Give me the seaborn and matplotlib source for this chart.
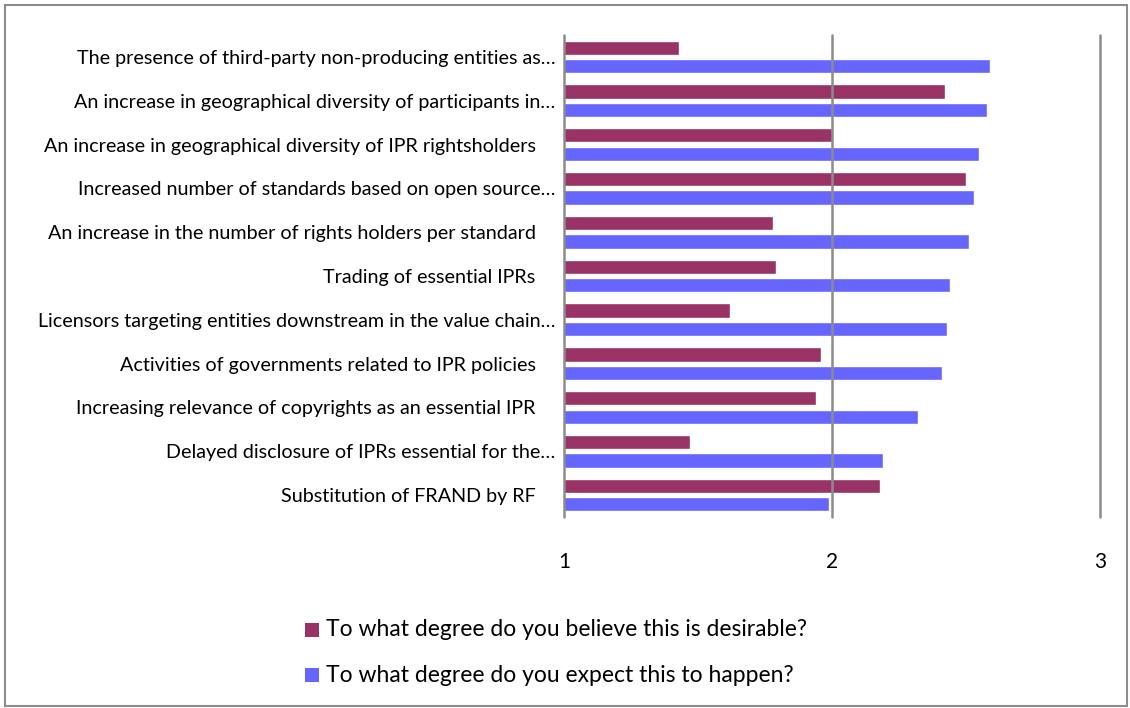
import matplotlib
matplotlib.use("Agg")
import matplotlib.pyplot as plt
import seaborn as sns
import pandas as pd
from matplotlib.patches import Rectangle

categories = [
    "The presence of third-party non-producing entities as\u2026",
    "An increase in geographical diversity of participants in\u2026",
    "An increase in geographical diversity of IPR rightsholders    ",
    "Increased number of standards based on open source\u2026",
    "An increase in the number of rights holders per standard    ",
    "Trading of essential IPRs    ",
    "Licensors targeting entities downstream in the value chain\u2026",
    "Activities of governments related to IPR policies    ",
    "Increasing relevance of copyrights as an essential IPR    ",
    "Delayed disclosure of IPRs essential for the\u2026",
    "Substitution of FRAND by RF    ",
]
desirable = [1.43, 2.42, 2.00, 2.50, 1.78, 1.79, 1.62, 1.96, 1.94, 1.47, 2.18]
expected = [2.59, 2.58, 2.55, 2.53, 2.51, 2.44, 2.43, 2.41, 2.32, 2.19, 1.99]
series_names = ["To what degree do you believe this is desirable?",
                "To what degree do you expect this to happen?"]
x_ticks = [1, 2, 3]

df = pd.DataFrame({
    "item": categories * 2,
    "score": desirable + expected,
    "series": [series_names[0]] * len(categories) + [series_names[1]] * len(categories),
})

sns.set_style("white")
plt.rcParams["font.family"] = ["Lato", "DejaVu Sans"]

fig = plt.figure(figsize=(11.3, 7.08), dpi=100)
ax = fig.add_axes([564 / 1130, 1 - 517 / 708, 536 / 1130, 482 / 708])

palette = {series_names[0]: "#993366", series_names[1]: "#6666FF"}
sns.barplot(data=df, y="item", x="score", hue="series", orient="h",
            palette=palette, width=0.845, gap=0.23, saturation=1,
            order=categories, hue_order=series_names, ax=ax, legend=False)

ax.set_xlim(1, 3)
ax.set_ylim(len(categories) - 0.5, -0.5)
ax.set_xticks(x_ticks)
ax.set_xticklabels([str(t) for t in x_ticks])
ax.set_xlabel("")
ax.set_ylabel("")
for s in ax.spines.values():
    s.set_visible(False)
for t in x_ticks:
    ax.axvline(t, color="#8c8c8c", lw=1.8, zorder=5, clip_on=False)
ax.tick_params(axis="x", length=0, pad=25, labelsize=15, colors="black")
ax.tick_params(axis="y", length=0, pad=6, labelsize=14.2, colors="black")

# legend drawn as patches + text in figure coordinates
leg_y = [630, 675]
for name, y in zip(series_names, leg_y):
    fig.patches.append(Rectangle((305 / 1130, 1 - (y + 7) / 708), 14 / 1130, 14 / 708,
                                 transform=fig.transFigure, facecolor=palette[name],
                                 edgecolor="none"))
    fig.text(326 / 1130, 1 - y / 708, name, fontsize=16.5, va="center", ha="left",
             color="black")

# outer frame
fig.patches.append(Rectangle((5 / 1130, 2 / 708), 1122 / 1130, 701 / 708,
                             transform=fig.transFigure, fill=False,
                             edgecolor="#8c8c8c", lw=1.5))

fig.savefig("out.png", dpi=100)
